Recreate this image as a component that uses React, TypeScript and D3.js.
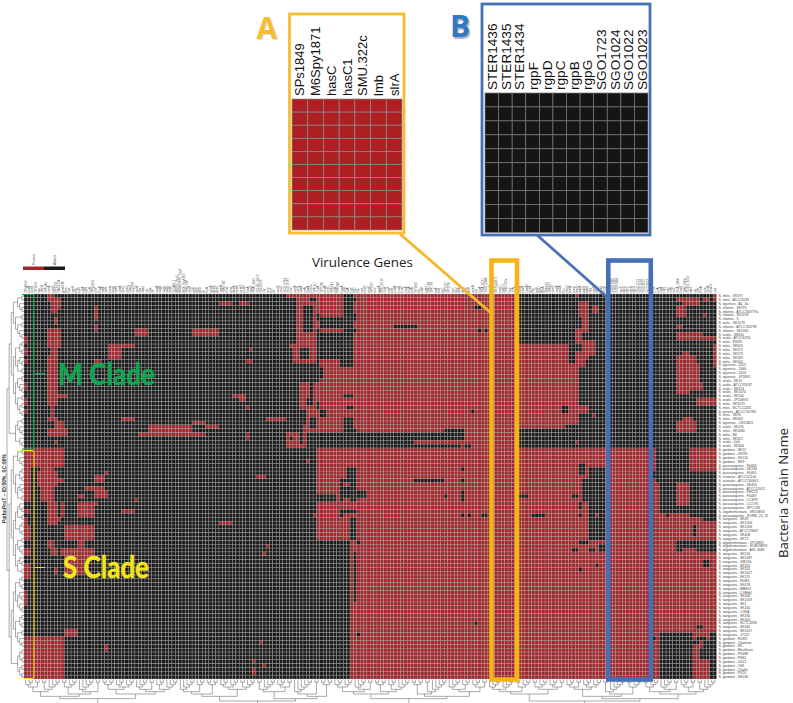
import React from "react";
import * as d3 from "d3";

const W = 793, H = 703;

const strainNames = [
"S. mitis - SK597","S. mitis - ATCC6249","S. tigurinus - AZ_3a","S. infantis - SK970","S. infantis - ATCC700779a","S. infantis - SK1076","S. infantis - X","S. mitis - SK1073","S. infantis - ATCC700798","S. infantis - SK1302",
"S. oralis - SK610","S. oralis - ATCC6296","S. mitis - F0392","S. mitis - SK616","S. mitis - SK575","S. mitis - SK579","S. mitis - SK569","S. mitis - SK564","S. tigurinus - 2425","S. tigurinus - 1366",
"S. tigurinus - 2426","S. tigurinus - JP1BV1","S. oralis - SK10","S. oralis - ATCC35037","S. oralis - SK313","S. oralis - SK1074","S. oralis - SK100","S. oralis - JP15BV3","S. mitis - SK1073","S. mitis - NCTC12261",
"S. peroris - ATCC700780","S. mitis - SK95","S. mitis - SK564","S. tigurinus - OS11BV1","S. oralis - SK255","S. mitis - SK1080","S. mitis - B6","S. mitis - SK321","S. oralis - Uo5","S. oralis - SK304",
"S. gordonii - SK12","S. gordonii - 49999","S. gordonii - SK120","S. gordonii - M99","S. parasanguinis - F0449","S. parasanguinis - SK236","S. parasanguinis - F0405","S. cristatus - ATCC51100","S. australis - ATCC700641","S. parasanguinis - SK405",
"S. parasanguinis - ATCC15912","S. parasanguinis - FW213","S. parasanguinis - F0449","S. parasanguinis - CC87K","S. parasanguinis - CCO76","S. parasanguinis - SPCC83","S. oligofermentans - VR15BV4","S. parasanguinis - SORM_20_31","S. sanguinis - SK49","S. sanguinis - SK1056",
"S. sanguinis - SK1058","S. sanguinis - ATCC29667","S. sanguinis - SK408","S. sanguinis - SK72","S. oligofermentans - JP15BV1","S. oligofermentans - SOB13BV3","S. oligofermentans - AS1.3089","S. sanguinis - SK150","S. sanguinis - SK1087","S. sanguinis - VMC66",
"S. sanguinis - SK353","S. sanguinis - SK355","S. sanguinis - SK1057","S. sanguinis - SK115","S. sanguinis - F0385","S. sanguinis - SK678","S. sanguinis - MBH01","S. sanguinis - CGSH4","S. sanguinis - SK408","S. sanguinis - SK1059",
"S. sanguinis - SK1","S. sanguinis - SK160","S. sanguinis - CG5A","S. sanguinis - SK330","S. sanguinis - SK405","S. sanguinis - NCTC3283","S. sanguinis - SK340","S. sanguinis - SK1057","S. sanguinis - JY227","S. gordonii - F0392",
"S. gordonii - Channon","S. gordonii - M5","S. gordonii - Blackburn","S. gordonii - PK488","S. gordonii - FSS2","S. gordonii - G102","S. gordonii - CH1","S. gordonii - Challis","S. gordonii - PV20","S. gordonii - SK034",
];

const genericGenesA = [
"SPy0019","cpsA","cpsB","SP1154","iga","zmpB","SP0346","nanA","nanB","SP1693",
"SAG1234","gbs0630","bca","bac","scpB","cfa","cylE","cylA","cylB","hylB",
"SPy1054","prtF","fbaA","sclA","sclB","emm","mga","speB","speA","speC",
"speG","smeZ","spyCEP","scpA","ska","sda1","slo","nga","ifs","sagA",
"sagB","sagC","sagD","sagE","SpyM3_1","M2096_Spy1","MGAS2096_Spy1","M28_Spy0106","SMU.610","spaP",
"gtfB","gtfC","gtfD","ftf","fruA","gbpA","gbpB","gbpC","wapA","SMU.987",
"cnm","cbm","dexA","comE","comD","comC","fimA","sagG","SSA_1632","SSU05_0473",
"SSU0253","sly","mrp","epf","ef","neuB","neuC","SGO_0701","SGO_0707","hsa",
"sspA","sspB","scaA","srtA","pavA","pbp2x","SP0117","pspA","SP2190","cbpA",
"pspC","SP0641","prtA","SP0648","bgaA","strH","lytA","lytB","lytC","ply",
"pce","cbpD","cbpE","SP1937","eno","gapA","SPD_0126","htrA","clpP","clpL",
"psaA","psaB","psaC","piaA","piuA","pitA","SP1032","tig","ciaR","ciaH",
"SP0798","SP0799","licA","licB","licC","SP1267","SP1270","tarI","tarJ","dltA",
"dltB","dltC","dltD","mreA","lgt","lspA","SSA_0227","SGO_0388","murN",
];
const insetAGenes = ["SPs1849","M6Spy1871","hasC","hasC1","SMU.322c","lmb","slrA"];
const genericGenesB = [
"perR","ccpA","codY","hasA2","gpsA","pgi","galE","galU","glnA","SP0095",
"SP0057","strH2","nagA","mtuA","fhs","pepO","amiA","amiC","amiD","adcA",
"adcR","adcB","rgg","rggD","covR","covS","ropB","fasX",
];
const insetBGenes = ["STER1436","STER1435","STER1434","rgpF","rgpD","rgpC","rgpB","rgpG","SGO1723","SGO1024","SGO1022","SGO1023"];
const genericGenesC = [
"SP1772","psrP","pilA","rrgA","rrgB","rrgC","srtB","srtC","SSA_1000","hasB",
"SMU.1004","SDEG_0232","ideS","sic","sfbI","fnbA","cpa","spnA","endoS","ssa",
];
const geneNames = [...genericGenesA, ...insetAGenes, ...genericGenesB, ...insetBGenes, ...genericGenesC];

// [firstGene, lastGene, firstStrain, lastStrain] — inclusive runs, applied in order
const presentRuns = [
[7,8,0,1],[8,10,1,3],[8,9,4,4],[9,9,6,7],[7,10,9,13],[8,9,14,15],[7,9,16,28],[10,12,26,26],[8,8,29,31],[7,9,32,32],[9,11,33,34],[7,12,35,36],[9,9,38,38],
[0,0,11,12],[0,0,14,15],[0,0,17,17],[0,0,23,24],[0,0,27,28],[0,0,30,30],[21,21,3,6],[21,21,8,9],[58,61,2,2],[64,66,2,2],[33,36,9,10],[50,57,9,10],
[25,28,13,16],[29,32,13,13],[21,22,17,17],[67,67,14,14],[66,67,17,17],[62,65,26,26],[64,65,27,27],[66,66,29,29],[29,32,32,32],[37,49,34,35],[34,53,36,36],[50,53,33,33],[54,57,34,34],[66,66,36,37],
[0,11,40,44],[0,1,45,53],[5,8,45,46],[4,9,46,49],[4,11,48,48],[5,8,50,53],[21,23,47,48],[24,24,46,46],[18,23,50,50],[21,24,51,52],[16,17,52,52],[16,21,54,54],[16,20,55,57],[33,33,53,53],[29,32,56,56],[58,61,59,59],
[7,9,54,59],[11,11,54,57],[10,10,58,58],[0,1,56,56],[0,0,58,59],[0,1,60,63],[0,1,66,67],[0,1,70,73],[0,0,77,80],[12,20,60,63],[16,17,64,65],[12,20,66,68],[12,17,69,72],[7,8,64,65],[8,9,66,67],[11,11,66,67],[9,9,71,72],
[12,15,87,88],[0,11,89,99],[24,24,91,92],[68,68,95,95],[68,68,97,98],[70,70,90,90],[69,71,47,47],[72,72,65,65],[71,71,67,67],[71,71,96,96],[72,77,32,32],[86,86,57,57],
[78,146,0,39],[147,160,13,34],[161,161,13,33],[161,164,18,28],[162,164,29,33],[164,167,29,30],[169,169,31,31],[87,205,40,99],
[164,164,0,0],[165,167,2,5],[169,170,3,4],[166,167,6,8],[164,165,9,12],[165,167,9,9],[166,169,12,15],[164,167,15,16],[164,166,16,18],
[194,195,1,1],[196,200,1,2],[202,203,1,1],[205,205,0,1],[194,196,3,5],[202,202,5,5],[194,195,8,8],[194,201,10,11],[200,205,11,11],[205,205,13,18],[196,197,15,15],[194,199,16,23],[200,200,18,23],[194,197,24,25],[198,201,23,24],[200,205,27,28],[194,199,33,35],[196,198,32,32],[164,164,38,38],
];
const absentRuns = [
[78,80,1,12],[78,78,13,13],[78,79,14,17],[78,87,18,22],[78,81,23,35],[84,85,27,28],[82,83,30,31],[85,85,23,26],[88,88,19,21],[87,87,28,29],[83,83,32,33],[85,86,32,34],[88,89,30,31],[78,82,32,35],
[83,85,3,9],[85,86,1,1],[87,87,5,6],[88,94,6,8],[88,94,10,16],[87,87,9,17],[95,97,0,18],[94,97,16,18],[95,98,9,9],[98,98,1,1],[98,98,5,6],[82,84,14,16],[84,86,36,39],[79,79,37,37],[82,82,36,38],
[110,116,8,8],[134,135,3,3],[135,135,9,9],[137,137,9,9],[95,97,26,26],[96,97,29,29],[133,133,30,30],[130,130,45,45],[95,97,32,35],[98,98,35,36],
[87,115,36,39],[116,125,36,37],[125,130,35,37],[116,129,39,39],[131,132,39,39],[95,97,38,39],[96,98,45,47],
[94,98,48,53],[98,101,51,52],[87,92,52,53],[94,98,56,56],[94,94,57,57],[97,98,58,63],[99,99,64,64],[98,98,67,70],[98,98,71,79],[99,99,88,88],[116,124,48,48],[130,130,48,48],[125,125,52,52],[130,130,51,53],[130,130,57,57],[132,132,57,57],[136,137,57,57],[134,134,85,85],
[87,96,64,99],[168,172,45,62],[165,166,44,46],[166,172,48,53],[165,165,54,55],[165,165,57,57],[163,164,52,52],[165,167,64,64],[168,172,63,63],[171,172,65,66],[163,164,66,66],[168,169,66,66],[165,165,71,71],[170,170,70,70],[147,149,52,52],[151,154,57,57],[160,161,29,30],
[188,197,40,48],[198,205,46,57],[187,194,46,47],[189,193,48,56],[191,191,57,57],[194,199,55,56],[202,205,58,58],[199,199,60,62],[194,205,64,65],[194,195,66,66],[200,205,66,66],[202,203,69,70],[200,201,86,86],
[189,198,88,99],[187,187,89,89],[199,200,90,90],[200,202,89,89],[202,203,90,92],[204,205,88,99],[201,203,92,94],
];
const presentOverlay = [[84,84,43,43],[95,96,49,49],[95,96,53,54],[170,170,57,57]];

const mCladeShape = [[[[2,3],[2,[2,3]]],[[[2,2],[3,2]],[[2,3],[2,[2,2]]]]],[[2,3],[3]]];
const sCladeShape = [[[[2,3],[[2,2],[3,2]]],[[[3,2],[2,2]],[[2,3],[3,2]]]],[[[[2,2],[3,3]],[[2,2],[2,3]]],[[2,2],[2,2]]]];
const strainTreeShape = [mCladeShape, sCladeShape];
const geneTreeShape = [[[[[3,2],[2,4]],[[2,3],[5,2]]],[[[2,2],[3,3]],[[4,2],[3,4]]]],[[[[[5,3],[2,2]],[[3,3],[2,3]]],[[[2,4],[3,2]],[[6,2],[2,2]]]],[[[[[3,3],[4,2]],[[2,2],[3,4]]],[[[2,2],[2,5]],[[4,3],[3,2]]]],[[[[4,4],[2,3]],[[2,3],[3,2]]],[[[[3,2],[3,3]],[[2,5],[2,3]]],[[[2,3],[4,2]],[[3,2],[2,4]]]]]]]];

const legendKeys = ["Present", "Absent"];
const insetRowCount = [0,1,2,3,4,5,6,7,8,9];

const RED = "#a3262b", BLACK = "#1b1b1b", GRID = "#a6a6a6";
const YELLOW = "#f6b419", BLUE = "#4470b6";

type Node = { children?: Node[]; leaf?: number };
function buildTree(shape: any): Node {
  let next = 0;
  const comb = (n: number): Node => n <= 1 ? { leaf: next++ } : { children: [{ leaf: next++ }, comb(n - 1)] };
  const walk = (s: any): Node => typeof s === "number" ? comb(s) : { children: s.map(walk) };
  return walk(shape);
}
function treeLinks(shape: any, pos: (i: number) => number) {
  const root = d3.hierarchy(buildTree(shape)) as any;
  root.eachAfter((n: any) => {
    n.p = n.children ? d3.mean(n.children, (c: any) => c.p) : pos(n.data.leaf);
  });
  const segs: { p0: number; h0: number; p1: number; h1: number }[] = [];
  root.each((n: any) => {
    if (!n.children) return;
    n.children.forEach((c: any) => {
      segs.push({ p0: c.p, h0: c.height, p1: c.p, h1: n.height });
    });
    const ps = n.children.map((c: any) => c.p);
    segs.push({ p0: d3.min(ps) as number, h0: n.height, p1: d3.max(ps) as number, h1: n.height });
  });
  return { segs, height: root.height as number };
}

export default function App() {
  const x = d3.scaleBand<number>().domain(d3.range(geneNames.length)).range([24, 716.5]);
  const y = d3.scaleBand<number>().domain(d3.range(strainNames.length)).range([294, 679]);

  const matrix = strainNames.map(() => geneNames.map(() => 0));
  const paint = (runs: number[][], v: number) => runs.forEach(([c0, c1, r0, r1]) => {
    for (let r = r0; r <= Math.min(r1, strainNames.length - 1); r++)
      for (let c = c0; c <= Math.min(c1, geneNames.length - 1); c++) matrix[r][c] = v;
  });
  paint(presentRuns, 1);
  paint(absentRuns, 0);
  paint(presentOverlay, 1);

  const rowTree = treeLinks(strainTreeShape, i => (y(i) as number) + y.bandwidth() / 2);
  const colTree = treeLinks(geneTreeShape, i => (x(i) as number) + x.bandwidth() / 2);
  const rowH = d3.scaleLinear().domain([0, rowTree.height]).range([24, 7]);
  const colH = d3.scaleLinear().domain([0, colTree.height]).range([680, 708]);

  const ax = d3.scaleBand<string>().domain(insetAGenes).range([292, 402]);
  const ay = d3.scaleBand<number>().domain(insetRowCount).range([99, 230]);
  const bx = d3.scaleBand<string>().domain(insetBGenes).range([485, 648]);
  const by = d3.scaleBand<number>().domain(insetRowCount).range([93, 232.5]);
  const lg = d3.scaleBand<string>().domain(legendKeys).range([23, 65]);

  return (
    <svg width={W} height={H} viewBox={`0 0 ${W} ${H}`} style={{ position: "absolute", left: 0, top: 0, display: "block", background: "#fff" }}>
      {/* legend */}
      {legendKeys.map((k, i) => (
        <g key={k}>
          <rect x={lg(k)} y={266.5} width={lg.bandwidth()} height={3.5} fill={i === 0 ? RED : BLACK} />
          <text transform={`translate(${(lg(k) as number) + lg.bandwidth() / 2 + 1},265) rotate(-90)`} fontSize={3.2} fontFamily="Liberation Sans" fill="#333">{k}</text>
        </g>
      ))}

      {/* main heat map */}
      <g stroke={GRID} strokeWidth={0.35}>
        {matrix.map((row, r) => row.map((v, c) => (
          <rect key={`${r}-${c}`} x={x(c)} y={y(r)} width={x.bandwidth()} height={y.bandwidth()} fill={v ? RED : BLACK} />
        )))}
      </g>

      {/* gene labels */}
      <g fontSize={3} fontFamily="Liberation Sans" fill="#555">
        {geneNames.map((g, i) => (
          <text key={i} transform={`translate(${(x(i) as number) + x.bandwidth() / 2 + 1},292.5) rotate(-90)`}>{g}</text>
        ))}
      </g>

      {/* strain labels */}
      <g fontSize={3.4} fontFamily="Liberation Sans" fill="#444">
        {strainNames.map((s, i) => (
          <text key={i} x={718.5} y={(y(i) as number) + y.bandwidth() / 2 + 1.2}>{s}</text>
        ))}
      </g>

      {/* dendrograms */}
      <g stroke="#6e6e6e" strokeWidth={0.6} fill="none">
        {rowTree.segs.map((s, i) => <line key={i} x1={rowH(s.h0)} y1={s.p0} x2={rowH(s.h1)} y2={s.p1} />)}
        {colTree.segs.map((s, i) => <line key={i} x1={s.p0} y1={colH(s.h0)} x2={s.p1} y2={colH(s.h1)} />)}
      </g>
      <text transform="translate(6,523) rotate(-90)" fontSize={5} fontWeight="bold" fontFamily="Liberation Sans" fill="#333">PathoProT – ID:50%, SC:90%</text>

      {/* clade brackets */}
      <path d="M22,294.5H33.5V449H22 M35,373.5H45" fill="none" stroke="#12a653" strokeWidth={1.1} />
      <path d="M23,450.5H32Q34,450.5 34,452V676Q34,678.5 32,678.5H24 M35,567.5H45" fill="none" stroke="#f2dc1e" strokeWidth={1.1} />
      <text x={58} y={385} textLength={97} lengthAdjust="spacingAndGlyphs" fontFamily="Lato" fontWeight="bold" fontSize={31} stroke="#11a552" strokeWidth={0.5} fill="#11a552">M Clade</text>
      <text x={63} y={578} textLength={86} lengthAdjust="spacingAndGlyphs" fontFamily="Lato" fontWeight="bold" fontSize={31} stroke="#f3e61c" strokeWidth={0.5} fill="#f3e61c">S Clade</text>

      <text x={312} y={266.5} textLength={101} lengthAdjust="spacingAndGlyphs" fontFamily="Open Sans" fontSize={13} fill="#222">Virulence Genes</text>
      <text transform="translate(788,558) rotate(-90)" textLength={130} lengthAdjust="spacingAndGlyphs" fontFamily="Open Sans" fontSize={13.5} fill="#222">Bacteria Strain Name</text>

      {/* zoom connectors */}
      <line x1={400} y1={234} x2={491} y2={313} stroke="#f6b728" strokeWidth={2.8} />
      <line x1={537} y1={235} x2={608} y2={298} stroke="#4a72b4" strokeWidth={2.8} />

      {/* highlight boxes */}
      <rect x={491.5} y={260.5} width={25.5} height={419} fill="none" stroke={YELLOW} strokeWidth={4.6} />
      <rect x={608.3} y={260.5} width={42.5} height={419} fill="none" stroke={BLUE} strokeWidth={4.6} />

      {/* inset A */}
      <rect x={289.5} y={14} width={114.5} height={219} fill="#fff" stroke="#f6bd30" strokeWidth={2.8} />
      <g stroke="#8c8c8c" strokeWidth={0.7}>
        {insetRowCount.map(r => insetAGenes.map(g => (
          <rect key={`${r}-${g}`} x={ax(g)} y={ay(r)} width={ax.bandwidth()} height={ay.bandwidth()} fill="#ad1f23" />
        )))}
      </g>
      {insetAGenes.map(g => (
        <text key={g} transform={`translate(${(ax(g) as number) + ax.bandwidth() / 2 + 4.5},96) rotate(-90)`} fontFamily="Liberation Sans" fontSize={13} fill="#111">{g}</text>
      ))}

      {/* inset B */}
      <rect x={482} y={4} width={168} height={231} fill="#fff" stroke={BLUE} strokeWidth={2.8} />
      <g stroke="#7a7a7a" strokeWidth={0.7}>
        {insetRowCount.map(r => insetBGenes.map(g => (
          <rect key={`${r}-${g}`} x={bx(g)} y={by(r)} width={bx.bandwidth()} height={by.bandwidth()} fill="#151515" />
        )))}
      </g>
      {insetBGenes.map(g => (
        <text key={g} transform={`translate(${(bx(g) as number) + bx.bandwidth() / 2 + 5.5},90) rotate(-90)`} fontFamily="Liberation Sans" fontSize={13.6} fill="#111">{g}</text>
      ))}

      <text x={256.5} y={39} fontFamily="Open Sans" fontWeight="bold" fontSize={30} fill="#f6bd33" style={{ textShadow: "1px 1px 1px rgba(0,0,0,0.15)" }}>A</text>
      <text x={450} y={37} fontFamily="Open Sans" fontWeight="bold" fontSize={30} fill="#2f78c4" style={{ textShadow: "1.5px 1.5px 1px rgba(0,0,0,0.3)" }}>B</text>
    </svg>
  );
}
